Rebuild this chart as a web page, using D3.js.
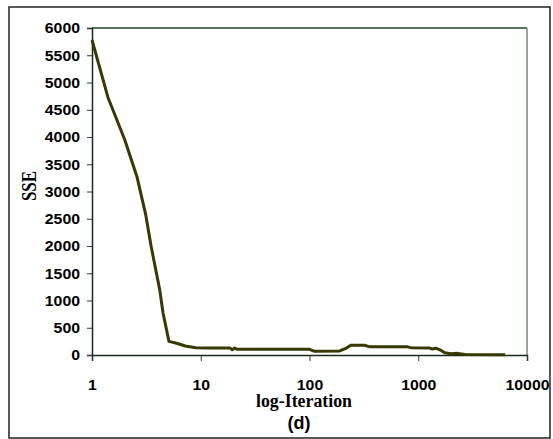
<!DOCTYPE html>
<html>
<head>
<meta charset="utf-8">
<script src="https://cdn.jsdelivr.net/npm/d3@7"></script>
<style>
  body { margin: 0; background: #fff; }
  svg { display: block; }
</style>
</head>
<body>
<svg id="chart"></svg>
<script>
// iteration (log axis) and SSE
var iterations = [1, 1.4, 2, 2.6, 3.1, 3.5, 4.2, 4.5, 5.1, 6, 7.2, 9, 12, 18.5, 19.5,
  20.5, 21.5, 100, 110, 190, 215, 240, 320, 360, 800, 850, 1250, 1350, 1450, 1600,
  1750, 2000, 2300, 2700, 6300];
var sse = [5780, 4730, 3950, 3260, 2600, 1990, 1190, 770, 250, 215, 165, 135, 130, 130, 95,
  130, 105, 105, 70, 75, 120, 180, 180, 150, 150, 135, 130, 110, 125, 90,
  40, 25, 30, 8, 5];

var xTicks = [1, 10, 100, 1000, 10000];
var yTicks = d3.range(0, 6001, 500);

var W = 553, H = 439;
var margin = { left: 92, right: 26, top: 28, bottom: 84 };

var svg = d3.select("#chart").attr("width", W).attr("height", H);

// outer frame
svg.append("rect")
  .attr("x", 9).attr("y", 7)
  .attr("width", 541).attr("height", 431)
  .attr("fill", "none")
  .attr("stroke", "#222")
  .attr("stroke-width", 1.5);

var x = d3.scaleLog().domain([1, 10000]).range([margin.left, W - margin.right]);
var y = d3.scaleLinear().domain([0, 6000]).range([H - margin.bottom, margin.top]);

// plot border top and right
svg.append("line")
  .attr("x1", x(1)).attr("x2", x(10000))
  .attr("y1", y(6000)).attr("y2", y(6000))
  .attr("stroke", "#1e4a1e").attr("stroke-width", 1.5);
svg.append("line")
  .attr("x1", x(10000)).attr("x2", x(10000))
  .attr("y1", y(6000)).attr("y2", y(0))
  .attr("stroke", "#6f906f").attr("stroke-width", 1.5);

var yAxis = svg.append("g")
  .attr("transform", "translate(" + x(1) + ",0)")
  .call(d3.axisLeft(y).tickValues(yTicks).tickSize(5).tickPadding(7).tickFormat(d3.format("d")));

var xAxis = svg.append("g")
  .attr("transform", "translate(0," + y(0) + ")")
  .call(d3.axisBottom(x).tickValues(xTicks).tickSize(6).tickPadding(18).tickFormat(d3.format("d")));

[yAxis, xAxis].forEach(function (g) {
  g.select(".domain").attr("stroke", "#1a2a1a").attr("stroke-width", 1.5);
  g.selectAll(".tick line").attr("stroke", "#333").attr("stroke-width", 1);
  g.selectAll(".tick text")
    .attr("fill", "#000")
    .style("font-family", "'Liberation Sans', Arial, sans-serif")
    .style("font-weight", "bold")
    .style("font-size", "15px")
    .attr("lengthAdjust", "spacingAndGlyphs")
    .attr("textLength", function () { return this.textContent.length * 8.8; });
});

// the SSE curve
var line = d3.line()
  .x(function (d, i) { return x(iterations[i]); })
  .y(function (d) { return y(d); });

svg.append("path")
  .datum(sse)
  .attr("d", line)
  .attr("fill", "none")
  .attr("stroke", "#383800")
  .attr("stroke-width", 3)
  .attr("stroke-linejoin", "round");

// axis titles
svg.append("text")
  .attr("x", 304).attr("y", 407)
  .attr("text-anchor", "middle")
  .style("font-family", "'Liberation Serif', 'Times New Roman', serif")
  .style("font-weight", "bold")
  .style("font-size", "18px")
  .attr("textLength", 96)
  .attr("lengthAdjust", "spacingAndGlyphs")
  .text("log-Iteration");

svg.append("text")
  .attr("x", 299).attr("y", 429)
  .attr("text-anchor", "middle")
  .style("font-family", "'Liberation Sans', Arial, sans-serif")
  .style("font-weight", "bold")
  .style("font-size", "18px")
  .text("(d)");

svg.append("text")
  .attr("transform", "translate(36,186) rotate(-90)")
  .attr("text-anchor", "middle")
  .style("font-family", "'Liberation Serif', 'Times New Roman', serif")
  .style("font-weight", "bold")
  .style("font-size", "22px")
  .attr("textLength", 30)
  .attr("lengthAdjust", "spacingAndGlyphs")
  .text("SSE");
</script>
</body>
</html>
